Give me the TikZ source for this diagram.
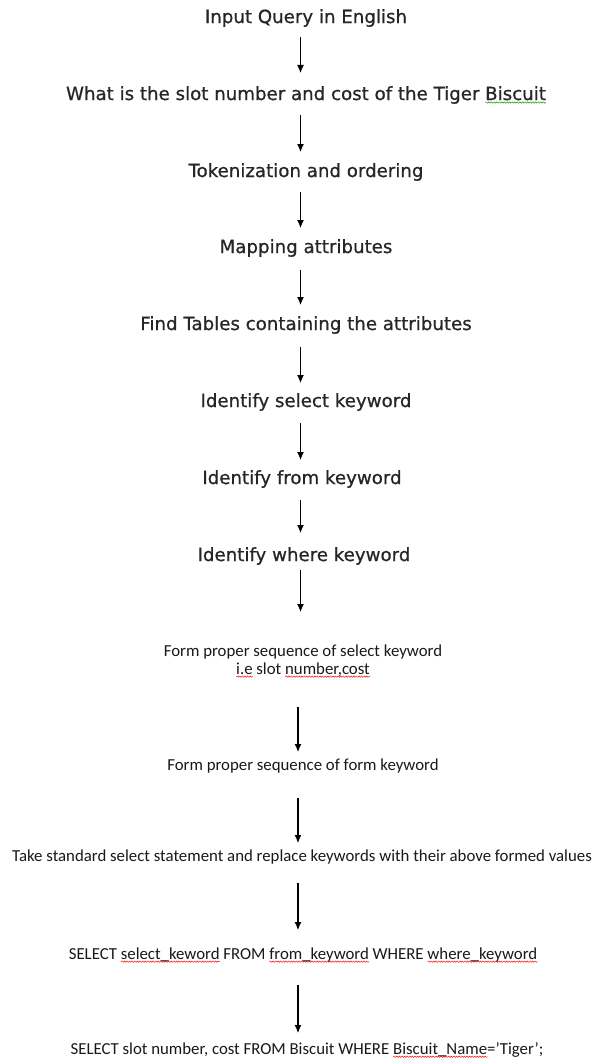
\documentclass[tikz,border=0pt]{standalone}
\usepackage{fontspec}
\setmainfont{Carlito}
\newfontfamily\topfont[FakeBold=0.7]{DejaVu Sans}
\usetikzlibrary{arrows.meta,decorations.pathmorphing}
\newcommand\squig[2][red]{\setbox0\hbox{#2}\leavevmode\rlap{\raisebox{-2.5pt}{\tikz[baseline=0pt]\draw[#1,line width=0.45pt,decorate,decoration={snake,amplitude=0.7pt,segment length=2.6pt}] (0,0)--(\the\wd0,0);}}\box0\relax}
\begin{document}
\begin{tikzpicture}[x=1pt,y=-1pt,
  toptxt/.style={inner sep=0pt,font=\topfont\fontsize{18.2}{20}\selectfont,text=black!85},
  bottxt/.style={inner sep=0pt,font=\fontsize{16.8}{18}\selectfont,align=center,text=black!90},
  arr/.style={line width=1.1pt,-{Latex[length=8pt,width=7pt]}}]
\useasboundingbox[fill=white] (0,0) rectangle (592,1062);
\node[toptxt] (t1) at (306,18) {Input Query in English};
\node[toptxt] (t2) at (306,95) {What is the slot number and cost of the Tiger \squig[green!60!black]{Biscuit}};
\node[toptxt] (t3) at (306,172) {Tokenization and ordering};
\node[toptxt] (t4) at (306,248) {Mapping attributes};
\node[toptxt] (t5) at (306,325) {Find Tables containing the attributes};
\node[toptxt] (t6) at (306,402) {Identify select keyword};
\node[toptxt] (t7) at (302,479) {Identify from keyword};
\node[toptxt] (t8) at (304,556) {Identify where keyword};
\node[bottxt] (t9) at (303,661) {Form proper sequence of select keyword\\\squig{i.e} slot \squig{number,cost}};
\node[bottxt] (t10) at (303,766) {Form proper sequence of form keyword};
\node[bottxt] (t11) at (302,857) {Take standard select statement and replace keywords with their above formed values};
\node[bottxt] (t12) at (303,955) {SELECT \squig{select\_keword} FROM \squig{from\_keyword} WHERE \squig{where\_keyword}};
\node[bottxt] (t13) at (307,1050) {SELECT slot number, cost FROM Biscuit WHERE \squig{Biscuit\_Name}=’Tiger’;};
\foreach \i/\x/\a/\b in {1/300.5/37/73, 2/300.5/115/152, 3/300.5/192/228, 4/300.5/270/305, 5/300.5/347/383, 6/300.5/423/460, 7/300.5/500/533, 8/300.5/570/612, 9/298/707/752, 10/298/798/843, 11/298/883/930, 12/298/985/1033}{
  \coordinate (s\i) at (\x,\a);
  \coordinate (e\i) at (\x,\b);
  \draw[arr] (s\i) -- (e\i);
}
\end{tikzpicture}
\end{document}
